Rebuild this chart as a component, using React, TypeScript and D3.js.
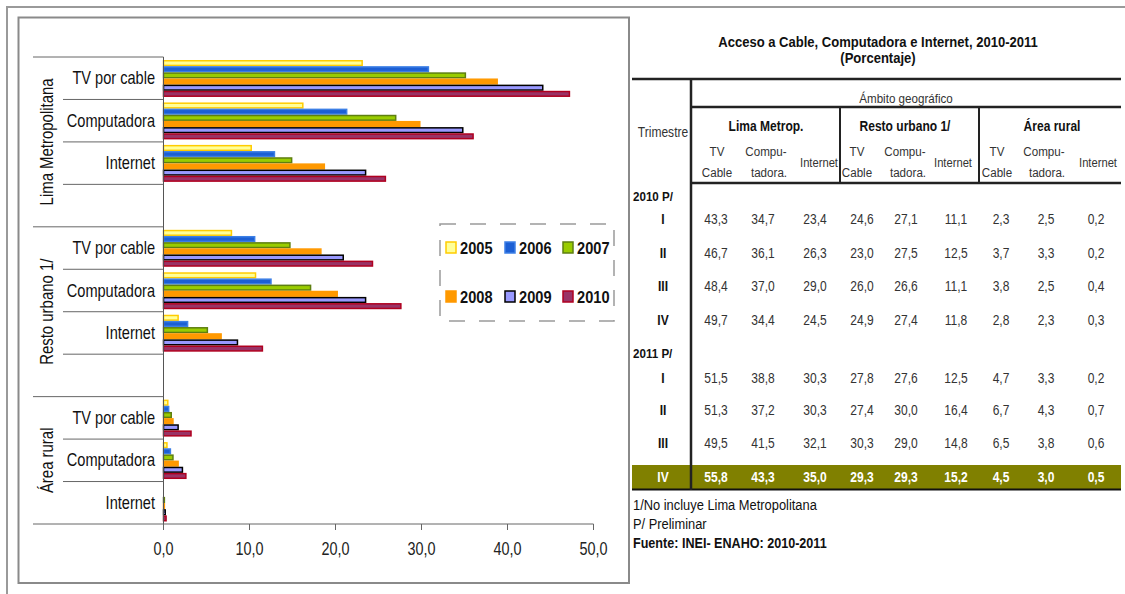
import React from "react";
import * as d3 from "d3";

// ---- Chart data (percent of households) ----
const years = ["2005", "2006", "2007", "2008", "2009", "2010"];
const regions = ["Lima Metropolitana", "Resto urbano 1/", "Área rural"];
const items = ["TV por cable", "Computadora", "Internet"];

// order: Lima (TV, Comp, Internet), Resto (TV, Comp, Internet), Rural (TV, Comp, Internet)
const v2005 = [23.1, 16.2, 10.2, 7.9, 10.7, 1.7, 0.5, 0.4, 0.0];
const v2006 = [30.8, 21.3, 12.9, 10.6, 12.5, 2.8, 0.6, 0.8, 0.0];
const v2007 = [35.1, 27.0, 14.9, 14.7, 17.1, 5.1, 0.9, 1.1, 0.1];
const v2008 = [38.8, 29.8, 18.7, 18.3, 20.2, 6.7, 1.1, 1.7, 0.1];
const v2009 = [44.1, 34.8, 23.5, 20.9, 23.5, 8.6, 1.7, 2.2, 0.2];
const v2010 = [47.2, 36.0, 25.8, 24.3, 27.6, 11.5, 3.2, 2.6, 0.3];
const seriesValues = [v2005, v2006, v2007, v2008, v2009, v2010];

const xTicks = [0, 10, 20, 30, 40, 50];

// ---- Table data ----
const tableTitle = "Acceso a Cable, Computadora e Internet, 2010-2011";
const tableSubtitle = "(Porcentaje)";
const tableGroups = ["Lima Metrop.", "Resto urbano 1/", "Área rural"];
const quarters = ["I", "II", "III", "IV"];
const rows2010 = [
  ["43,3", "34,7", "23,4", "24,6", "27,1", "11,1", "2,3", "2,5", "0,2"],
  ["46,7", "36,1", "26,3", "23,0", "27,5", "12,5", "3,7", "3,3", "0,2"],
  ["48,4", "37,0", "29,0", "26,0", "26,6", "11,1", "3,8", "2,5", "0,4"],
  ["49,7", "34,4", "24,5", "24,9", "27,4", "11,8", "2,8", "2,3", "0,3"],
];
const rows2011 = [
  ["51,5", "38,8", "30,3", "27,8", "27,6", "12,5", "4,7", "3,3", "0,2"],
  ["51,3", "37,2", "30,3", "27,4", "30,0", "16,4", "6,7", "4,3", "0,7"],
  ["49,5", "41,5", "32,1", "30,3", "29,0", "14,8", "6,5", "3,8", "0,6"],
  ["55,8", "43,3", "35,0", "29,3", "29,3", "15,2", "4,5", "3,0", "0,5"],
];
const notes = ["1/No incluye Lima Metropolitana", "P/ Preliminar"];
const source = "Fuente: INEI- ENAHO: 2010-2011";

// ---- Styles ----
const FONT = "'Liberation Sans', Arial, sans-serif";
const fills = ["#FFFF99", "#1C5FD4", "#99CC00", "#FF9900", "#9999FF", "#993366"];
const strokes = ["#FFCC00", "#3C7FE6", "#5E7F10", "#FF9900", "#000000", "#B00020"];
const OLIVE = "#808000";

// Condensed text: horizontally squeezed around its anchor point
function T(props: any) {
  const { x, y, sx = 0.82, rotate = 0, children, ...rest } = props;
  const rot = rotate ? ` rotate(${rotate})` : "";
  return (
    <text transform={`translate(${x},${y})${rot} scale(${sx},1)`} {...rest}>
      {children}
    </text>
  );
}

export default function App() {
  const W = 1125;
  const H = 594;

  // value axis
  const x = d3.scaleLinear().domain([0, 50]).range([163.5, 593.5]);

  // category slots: three items per region, with an empty slot after the first two regions
  const slots: { key: string; region: number; item: number }[] = [];
  regions.forEach((_, r) => {
    items.forEach((_, i) => slots.push({ key: `${r}-${i}`, region: r, item: i }));
    if (r < regions.length - 1) slots.push({ key: `${r}-blank`, region: r, item: -1 });
  });
  const y = d3.scaleBand<string>().domain(slots.map((s) => s.key)).range([57, 524]);
  const inner = d3.scaleBand<string>().domain(years).range([3, y.bandwidth() - 2.5]);

  const catLines = slots.map((s, idx) => {
    const first = idx === 0 || slots[idx - 1].region !== s.region;
    return { y: y(s.key)!, long: first };
  });

  const regionCenters = regions.map((_, r) => {
    const ks = slots.filter((s) => s.region === r);
    const top = y(ks[0].key)!;
    const bottom = r < regions.length - 1 ? y(slots[slots.indexOf(ks[ks.length - 1]) + 1].key)! : 524;
    return (top + bottom) / 2;
  });

  // table column layout
  const colX = [716, 763, 815, 862, 906, 956, 1001, 1046, 1096];
  const headTV = [717, 857, 997];
  const headComp = [766, 905, 1044];
  const headNet = [819, 953, 1098];
  const groupX = [766, 905, 1052];
  const rowY2010 = [219, 253, 286, 320];
  const rowY2011 = [378, 410, 443, 477];
  const TS = 0.86;

  const legendCols = [446, 505, 563];
  const legendRows = [248, 297];

  return (
    <svg
      width={W}
      height={H}
      viewBox={`0 0 ${W} ${H}`}
      style={{ position: "absolute", left: 0, top: 0, background: "#fff" }}
      fontFamily={FONT}
    >
      <rect x={0} y={0} width={W} height={H} fill="#fff" />
      {/* outer frame */}
      <line x1={6} y1={7} x2={W} y2={7} stroke="#9a9a9a" strokeWidth={2} />
      <line x1={7} y1={6} x2={7} y2={H} stroke="#9a9a9a" strokeWidth={2} />
      {/* chart box */}
      <rect x={18.5} y={17.5} width={610.5} height={565.5} fill="none" stroke="#8a8a8a" strokeWidth={2} />

      {/* bars */}
      {slots
        .filter((s) => s.item >= 0)
        .map((s) => {
          const idx = s.region * 3 + s.item;
          return years.map((yr, k) => {
            const v = seriesValues[k][idx];
            if (v <= 0) return null;
            const y0 = y(s.key)! + inner(yr)!;
            return (
              <rect
                key={`${s.key}-${yr}`}
                x={x(0)}
                y={y0 + 0.75}
                width={x(v) - x(0)}
                height={inner.bandwidth() - 1.5}
                fill={fills[k]}
                stroke={strokes[k]}
                strokeWidth={1.5}
              />
            );
          });
        })}

      {/* category axis */}
      <line x1={x(0)} y1={57} x2={x(0)} y2={524} stroke="#555" strokeWidth={1} />
      {catLines.map((l, i) => (
        <line key={i} x1={l.long ? 33 : 63} y1={l.y} x2={x(0)} y2={l.y} stroke="#666" strokeWidth={1} />
      ))}
      {/* value axis baseline and ticks */}
      <line x1={33} y1={524} x2={x(50)} y2={524} stroke="#666" strokeWidth={1} />
      {xTicks.map((t) => (
        <g key={t}>
          <line x1={x(t)} y1={524} x2={x(t)} y2={530} stroke="#666" strokeWidth={1} />
          <T x={x(t)} y={555} sx={0.8} textAnchor="middle" fontSize={18} fill="#222">
            {d3.format(".1f")(t).replace(".", ",")}
          </T>
        </g>
      ))}
      {/* item labels */}
      {slots
        .filter((s) => s.item >= 0)
        .map((s) => (
          <T
            key={`lab-${s.key}`}
            x={155}
            y={y(s.key)! + y.bandwidth() / 2 + 6}
            sx={0.81}
            textAnchor="end"
            fontSize={18}
            fill="#111"
          >
            {items[s.item]}
          </T>
        ))}
      {/* region labels */}
      {regions.map((r, i) => (
        <T key={r} x={53} y={regionCenters[i]} rotate={-90} sx={0.83} textAnchor="middle" fontSize={18} fill="#111">
          {r}
        </T>
      ))}

      {/* legend */}
      <rect
        x={440}
        y={224}
        width={174}
        height={97}
        fill="none"
        stroke="#9a9a9a"
        strokeWidth={1.5}
        strokeDasharray="16 14"
      />
      {years.map((yr, k) => {
        const cx = legendCols[k % 3];
        const cy = legendRows[Math.floor(k / 3)];
        return (
          <g key={`lg-${yr}`}>
            <rect x={cx} y={cy - 6} width={10} height={11} fill={fills[k]} stroke={strokes[k]} strokeWidth={1.5} />
            <T x={cx + 14} y={cy + 6} sx={0.86} fontSize={17} fontWeight="bold" fill="#111">
              {yr}
            </T>
          </g>
        );
      })}

      {/* ---- table ---- */}
      <T x={878} y={47} sx={0.87} textAnchor="middle" fontSize={15} fontWeight="bold" fill="#111">
        {tableTitle}
      </T>
      <T x={878} y={63} sx={0.87} textAnchor="middle" fontSize={15} fontWeight="bold" fill="#111">
        {tableSubtitle}
      </T>

      <rect x={632} y={465} width={489} height={24} fill={OLIVE} />

      <line x1={632} y1={79} x2={1121} y2={79} stroke="#222" strokeWidth={2.5} />
      <line x1={691} y1={107} x2={1121} y2={107} stroke="#222" strokeWidth={2.5} />
      <line x1={691} y1={183} x2={1121} y2={183} stroke="#222" strokeWidth={2.5} />
      <line x1={632} y1={489.5} x2={1121} y2={489.5} stroke="#111" strokeWidth={2} />
      <line x1={691} y1={79} x2={691} y2={490} stroke="#222" strokeWidth={2.5} />
      <line x1={840} y1={107} x2={840} y2={183} stroke="#222" strokeWidth={2} />
      <line x1={979} y1={107} x2={979} y2={183} stroke="#222" strokeWidth={2} />

      <T x={906} y={103} sx={TS} textAnchor="middle" fontSize={13.5} fill="#333">
        Ámbito geográfico
      </T>
      <T x={663} y={137} sx={TS} textAnchor="middle" fontSize={14} fill="#333">
        Trimestre
      </T>
      {tableGroups.map((g, i) => (
        <T key={g} x={groupX[i]} y={131} sx={TS} textAnchor="middle" fontSize={14} fontWeight="bold" fill="#111">
          {g}
        </T>
      ))}
      {tableGroups.map((g, i) => (
        <g key={`sub-${g}`} fontSize={13.5} fill="#333">
          <T x={headTV[i]} y={156} sx={TS} textAnchor="middle">TV</T>
          <T x={headTV[i]} y={177} sx={TS} textAnchor="middle">Cable</T>
          <T x={headComp[i]} y={156} sx={TS} textAnchor="middle">Compu-</T>
          <T x={headComp[i] + 3} y={177} sx={TS} textAnchor="middle">tadora.</T>
          <T x={headNet[i]} y={167} sx={0.83} textAnchor="middle">Internet</T>
        </g>
      ))}

      <T x={633} y={201} sx={TS} fontSize={13.5} fontWeight="bold" fill="#111">2010 P/</T>
      {rows2010.map((row, r) => (
        <g key={`r10-${r}`} fontSize={14} fill="#333">
          <T x={663} y={rowY2010[r] + 5} sx={TS} textAnchor="middle" fontWeight="bold" fill="#111">
            {quarters[r]}
          </T>
          {row.map((v, c) => (
            <T key={c} x={colX[c]} y={rowY2010[r] + 5} sx={TS} textAnchor="middle">
              {v}
            </T>
          ))}
        </g>
      ))}
      <T x={633} y={358} sx={TS} fontSize={13.5} fontWeight="bold" fill="#111">2011 P/</T>
      {rows2011.map((row, r) => {
        const last = r === rows2011.length - 1;
        return (
          <g key={`r11-${r}`} fontSize={14} fill={last ? "#fff" : "#333"} fontWeight={last ? "bold" : "normal"}>
            <T x={663} y={rowY2011[r] + 5} sx={TS} textAnchor="middle" fontWeight="bold" fill={last ? "#fff" : "#111"}>
              {quarters[r]}
            </T>
            {row.map((v, c) => (
              <T key={c} x={colX[c]} y={rowY2011[r] + 5} sx={TS} textAnchor="middle">
                {v}
              </T>
            ))}
          </g>
        );
      })}

      {notes.map((n, i) => (
        <T key={n} x={633} y={510 + i * 19} sx={0.92} fontSize={14} fill="#111">
          {n}
        </T>
      ))}
      <T x={633} y={548} sx={0.9} fontSize={14} fontWeight="bold" fill="#111">
        {source}
      </T>
    </svg>
  );
}
